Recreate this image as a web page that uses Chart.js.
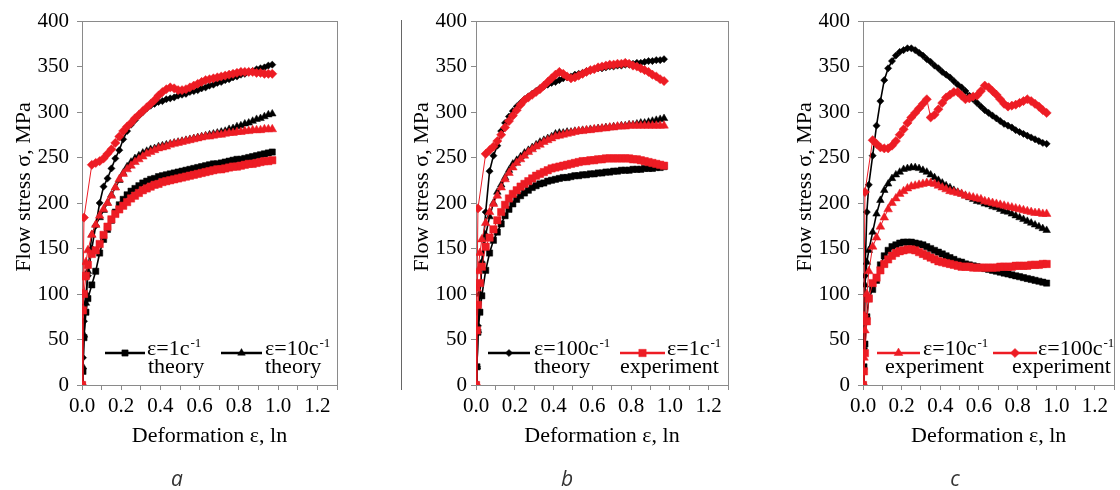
<!DOCTYPE html>
<html><head><meta charset="utf-8">
<script src="https://cdn.jsdelivr.net/npm/chart.js@4.4.1/dist/chart.umd.min.js"></script>
<style>
html,body{margin:0;padding:0;background:#fff;}
#wrap{position:relative;width:1120px;height:490px;overflow:hidden;background:#fff;}
#wrap canvas{position:absolute;left:0;top:0;}
.lbl{position:absolute;font-family:'Open Sans',sans-serif;font-style:italic;font-size:21px;color:#333;transform:translate(-50%,-50%);line-height:1;}
#sep{position:absolute;left:401px;top:20px;width:1px;height:370px;background:#666;}
</style></head><body>
<div id="wrap">
<canvas id="ca" width="1120" height="490"></canvas>
<canvas id="cb" width="1120" height="490"></canvas>
<canvas id="cc" width="1120" height="490"></canvas>
<div id="sep"></div>
<div class="lbl" style="left:177px;top:478px">a</div>
<div class="lbl" style="left:567px;top:478px">b</div>
<div class="lbl" style="left:955px;top:478px">c</div>
</div>
<script>
// ---------------- DATA ----------------
const STRAIN_AB = [0, 0.005, 0.01, 0.02, 0.03, 0.05, 0.07, 0.09, 0.11, 0.13, 0.15, 0.17, 0.19, 0.21, 0.23, 0.25, 0.27, 0.29, 0.31, 0.33, 0.35, 0.37, 0.39, 0.41, 0.43, 0.45, 0.47, 0.49, 0.51, 0.53, 0.55, 0.57, 0.59, 0.61, 0.63, 0.65, 0.67, 0.69, 0.71, 0.73, 0.75, 0.77, 0.79, 0.81, 0.83, 0.85, 0.87, 0.89, 0.91, 0.93, 0.95, 0.97];
const STRAIN_C  = [0, 0.005, 0.01, 0.02, 0.03, 0.05, 0.07, 0.09, 0.11, 0.13, 0.15, 0.17, 0.19, 0.21, 0.23, 0.25, 0.27, 0.29, 0.31, 0.33, 0.35, 0.37, 0.39, 0.41, 0.43, 0.45, 0.47, 0.49, 0.51, 0.53, 0.55, 0.57, 0.59, 0.61, 0.63, 0.65, 0.67, 0.69, 0.71, 0.73, 0.75, 0.77, 0.79, 0.81, 0.83, 0.85, 0.87, 0.89, 0.91, 0.93, 0.95];

// panel a
const A_THEORY_1   = [0, 15, 52, 80, 95, 110, 125, 145, 160, 171, 181, 190, 198, 204, 209, 213, 216, 219, 222, 224, 226, 227, 229, 230, 231, 232, 233, 234, 235, 236, 237, 238, 239, 240, 241, 242, 243, 243, 244, 245, 246, 247, 248, 248, 249, 250, 251, 252, 253, 254, 255, 256];
const A_THEORY_10  = [0, 20, 55, 90, 125, 165, 176, 184, 192, 200, 209, 217, 225, 233, 240, 245, 249, 252, 255, 257, 259, 260, 262, 263, 264, 265, 266, 267, 268, 269, 270, 271, 272, 273, 274, 275, 276, 277, 278, 279, 281, 282, 284, 285, 287, 288, 290, 292, 293, 295, 297, 298];
const A_THEORY_100 = [0, 30, 70, 100, 120, 150, 175, 200, 218, 227, 238, 249, 258, 270, 279, 286, 291, 296, 300, 304, 307, 309, 311, 312, 314, 315, 316, 318, 319, 320, 322, 323, 324, 326, 327, 329, 330, 332, 333, 335, 336, 338, 339, 341, 342, 344, 345, 347, 348, 349, 351, 352];
const A_EXP_1      = [0, 82, 100, 120, 132, 144, 148, 155, 165, 174, 182, 188, 193, 197, 201, 205, 208, 211, 214, 216, 218, 220, 221, 223, 224, 225, 226, 227, 228, 229, 230, 231, 232, 233, 234, 235, 236, 237, 237, 238, 239, 240, 240, 241, 242, 243, 243, 244, 245, 246, 246, 247];
const A_EXP_10     = [0, 100, 118, 135, 148, 165, 176, 186, 193, 200, 208, 217, 226, 232, 237, 241, 245, 248, 251, 254, 256, 258, 260, 261, 262, 264, 265, 266, 267, 268, 269, 270, 271, 272, 273, 273, 274, 275, 275, 276, 277, 277, 278, 278, 279, 279, 280, 280, 280, 281, 281, 281];
const A_EXP_100    = [0, null, 184, null, null, 242, 244, 246, 249, 254, 259, 266, 273, 279, 284, 288, 293, 297, 301, 305, 309, 313, 318, 322, 325, 327, 326, 324, 324, 325, 327, 329, 331, 333, 335, 336, 337, 338, 339, 340, 341, 342, 343, 344, 344, 344, 344, 343, 343, 342, 342, 342];

// panel b
const B_THEORY_1   = [0, 20, 58, 80, 98, 126, 145, 159, 168, 177, 186, 193, 199, 204, 208, 211, 214, 217, 219, 221, 222, 224, 225, 226, 227, 228, 228, 229, 230, 230, 231, 231, 232, 232, 233, 233, 234, 234, 235, 235, 236, 236, 236, 237, 237, 237, 238, 238, 238, 239, 239, 240];
const B_THEORY_10  = [0, 20, 60, 100, 130, 165, 185, 200, 212, 220, 228, 236, 243, 247, 251, 255, 258, 261, 264, 267, 269, 271, 273, 276, 277, 277, 278, 278, 279, 279, 280, 280, 281, 281, 282, 282, 283, 283, 284, 284, 285, 285, 286, 286, 287, 288, 288, 289, 290, 291, 292, 293];
const B_THEORY_100 = [0, 20, 65, 100, 135, 190, 235, 252, 263, 279, 288, 295, 301, 306, 310, 314, 317, 320, 323, 326, 328, 330, 332, 333, 335, 337, 338, 339, 341, 342, 343, 345, 346, 347, 348, 348, 349, 350, 350, 351, 351, 352, 352, 353, 354, 354, 355, 356, 356, 357, 357, 358];
const B_EXP_1      = [0, 60, 88, 112, 130, 152, 162, 171, 181, 190, 198, 205, 210, 214, 218, 221, 224, 227, 230, 232, 234, 236, 238, 239, 240, 241, 242, 243, 244, 245, 246, 246, 247, 247, 248, 248, 249, 249, 249, 249, 249, 249, 249, 248, 248, 247, 246, 245, 244, 243, 242, 241];
const B_EXP_10     = [0, 106, 125, 145, 160, 178, 190, 199, 208, 217, 226, 233, 239, 244, 248, 252, 256, 259, 262, 264, 267, 269, 271, 273, 274, 275, 276, 277, 278, 279, 279, 280, 280, 281, 281, 282, 282, 283, 283, 284, 284, 284, 285, 285, 285, 285, 285, 285, 285, 285, 285, 285];
const B_EXP_100    = [0, null, 194, null, null, 254, 258, 262, 268, 275, 283, 290, 296, 302, 308, 313, 316, 319, 322, 325, 329, 333, 337, 341, 344, 342, 339, 337, 338, 340, 342, 344, 346, 347, 349, 350, 351, 352, 352, 353, 353, 354, 353, 351, 350, 348, 346, 344, 341, 339, 336, 334];

// panel c
const C_THEORY_1   = [0, 20, 45, 75, 95, 105, 115, 132, 142, 148, 152, 154, 156, 157, 157, 157, 156, 155, 154, 152, 150, 148, 146, 144, 142, 140, 138, 136, 135, 133, 132, 131, 130, 129, 128, 127, 126, 125, 124, 123, 122, 121, 120, 119, 118, 117, 116, 115, 114, 113, 112];
const C_THEORY_10  = [0, 40, 110, 135, 148, 168, 188, 203, 214, 221, 227, 231, 234, 237, 238, 239, 239, 238, 236, 234, 231, 228, 225, 222, 219, 217, 214, 212, 210, 208, 206, 204, 202, 201, 199, 198, 196, 195, 193, 191, 190, 188, 186, 184, 182, 180, 178, 176, 174, 172, 170];
const C_THEORY_100 = [0, 40, 120, 190, 220, 252, 285, 312, 335, 348, 356, 362, 366, 368, 370, 370, 368, 365, 362, 358, 355, 351, 348, 344, 341, 338, 334, 330, 327, 323, 318, 314, 310, 306, 302, 299, 296, 293, 290, 287, 285, 283, 280, 278, 276, 274, 272, 270, 268, 266, 265];
const C_EXP_1      = [0, 15, 35, 70, 95, 112, 118, 126, 133, 138, 142, 145, 147, 148, 149, 149, 148, 146, 144, 142, 140, 138, 136, 135, 134, 133, 132, 131, 130, 130, 130, 129, 129, 129, 129, 129, 129, 129, 130, 130, 130, 130, 131, 131, 131, 131, 132, 132, 132, 133, 133];
const C_EXP_10     = [0, 30, 60, 100, 125, 152, 162, 174, 184, 193, 200, 205, 210, 213, 216, 218, 219, 220, 221, 222, 222, 221, 219, 217, 215, 213, 212, 211, 210, 208, 207, 206, 205, 204, 202, 201, 200, 199, 198, 197, 196, 195, 194, 193, 192, 191, 190, 189, 189, 188, 188];
const C_EXP_100    = [0, 76, 212, null, null, 269, 265, 261, 260, 260, 263, 268, 275, 281, 288, 294, 299, 304, 309, 314, 294, 297, 303, 310, 316, 319, 322, 322, 318, 314, 315, 317, 318, 323, 329, 327, 323, 319, 314, 309, 306, 307, 308, 310, 312, 314, 312, 309, 306, 302, 299];

const X_TICK_LABELS = ['0.0', '0.2', '0.4', '0.6', '0.8', '1.0', '1.2'];
const Y_TICKS = [0, 50, 100, 150, 200, 250, 300, 350, 400];
const X_TITLE = 'Deformation ε, ln';
const Y_TITLE = 'Flow stress σ, MPa';

const LEGEND_A = [{rate: '1', note: 'theory', kind: 'theory'}, {rate: '10', note: 'theory', kind: 'theory'}];
const LEGEND_B = [{rate: '100', note: 'theory', kind: 'theory'}, {rate: '1', note: 'experiment', kind: 'exp'}];
const LEGEND_C = [{rate: '10', note: 'experiment', kind: 'exp'}, {rate: '100', note: 'experiment', kind: 'exp'}];

// ---------------- STYLE ----------------
const BLACK = '#000000';
const RED = '#ed1c24';
const AXIS_GRAY = '#8a8a8a';
const SERIF = '"Liberation Serif","Times New Roman",serif';
const RATE_STYLE = {
  '1':   {style: 'rect',     rTheory: 4.4, rExp: 5.2},
  '10':  {style: 'triangle', rTheory: 4.4, rExp: 5.0},
  '100': {style: 'rectRot',  rTheory: 3.6, rExp: 4.6}
};

function buildSeries(strain, th1, th10, th100, ex1, ex10, ex100) {
  const list = [
    ['1', 'exp', ex1], ['10', 'exp', ex10], ['100', 'exp', ex100],
    ['1', 'theory', th1], ['10', 'theory', th10], ['100', 'theory', th100]
  ];
  return list.map(([rate, kind, vals]) => {
    const st = RATE_STYLE[rate];
    const col = kind === 'exp' ? RED : BLACK;
    return {
      label: 'ε=' + rate + ' ' + kind,
      data: strain.map((x, i) => ({x: x, y: vals[i]})),
      borderColor: col,
      backgroundColor: col,
      borderWidth: kind === 'exp' ? 1 : 1.6,
      pointStyle: st.style,
      pointRadius: kind === 'exp' ? st.rExp : st.rTheory,
      pointBackgroundColor: col,
      pointBorderColor: col,
      pointBorderWidth: 0.5,
      spanGaps: true,
      tension: 0,
      fill: false
    };
  });
}

const framePlugin = {
  id: 'frame',
  beforeDatasetsDraw(chart) {
    const a = chart.chartArea, ctx = chart.ctx;
    ctx.save();
    ctx.strokeStyle = AXIS_GRAY; ctx.lineWidth = 1;
    ctx.strokeRect(Math.round(a.left) + 0.5, Math.round(a.top) + 0.5, Math.round(a.right - a.left), Math.round(a.bottom - a.top));
    ctx.restore();
  }
};

const extrasPlugin = {
  id: 'extras',
  afterDraw(chart) {
    const o = chart.options.plugins.extras;
    const ctx = chart.ctx;
    ctx.save();
    ctx.translate(o.yTitleX, o.yTitleY);
    ctx.rotate(-Math.PI / 2);
    ctx.fillStyle = '#000';
    ctx.font = '22px ' + SERIF;
    ctx.textAlign = 'center';
    ctx.textBaseline = 'middle';
    ctx.fillText(Y_TITLE, 0, 0);
    ctx.restore();
    o.legend.forEach((e, i) => {
      const p = o.legendPos[i];
      const col = e.kind === 'exp' ? RED : BLACK;
      const st = RATE_STYLE[e.rate];
      ctx.save();
      ctx.strokeStyle = col; ctx.lineWidth = 2.6;
      ctx.beginPath(); ctx.moveTo(p.x1, p.y); ctx.lineTo(p.x2, p.y); ctx.stroke();
      ctx.fillStyle = col; ctx.lineWidth = 0.5;
      Chart.helpers.drawPoint(ctx, {pointStyle: st.style, radius: e.kind === 'exp' ? st.rExp : st.rTheory, rotation: 0, borderWidth: 0.5}, (p.x1 + p.x2) / 2, p.y);
      ctx.fillStyle = '#000';
      ctx.textAlign = 'left';
      ctx.textBaseline = 'alphabetic';
      ctx.font = '22px ' + SERIF;
      const main = 'ε=' + e.rate + 'c';
      ctx.fillText(main, p.tx, p.base);
      const w = ctx.measureText(main).width;
      ctx.font = '13px ' + SERIF;
      ctx.fillText('-1', p.tx + w + 1, p.base - 8);
      ctx.font = '22px ' + SERIF;
      ctx.fillText(e.note, p.nx, p.base + 18);
      ctx.restore();
    });
  }
};

function makePanel(id, datasets, layout, legend) {
  new Chart(document.getElementById(id), {
    type: 'line',
    data: {datasets: datasets},
    plugins: [framePlugin, extrasPlugin],
    options: {
      responsive: false,
      animation: false,
      events: [],
      devicePixelRatio: 1,
      layout: {padding: {left: layout.left - 60, right: 1120 - layout.right, top: 21, bottom: 41}},
      plugins: {
        legend: {display: false},
        tooltip: {enabled: false},
        extras: {yTitleX: layout.yTitleX, yTitleY: 187, legend: legend, legendPos: layout.legendPos}
      },
      scales: {
        x: {
          type: 'linear', min: 0, max: 1.3,
          afterFit(s) { s.height = 64; },
          grid: {drawOnChartArea: false, drawTicks: true, tickLength: 5, color: AXIS_GRAY},
          border: {display: true, color: AXIS_GRAY, width: 1},
          ticks: {
            stepSize: 0.1, autoSkip: false, maxRotation: 0, minRotation: 0, padding: 4,
            color: '#000', font: {family: SERIF, size: 21},
            callback(v) { const k = Math.round(v * 10); return (k % 2 === 0 && k / 2 < X_TICK_LABELS.length) ? X_TICK_LABELS[k / 2] : ''; }
          },
          title: {display: true, text: X_TITLE, color: '#000', font: {family: SERIF, size: 22}, padding: 0}
        },
        y: {
          type: 'linear', min: Y_TICKS[0], max: Y_TICKS[Y_TICKS.length - 1],
          afterFit(s) { s.width = 60; },
          grid: {drawOnChartArea: false, drawTicks: true, tickLength: 5, color: AXIS_GRAY},
          border: {display: true, color: AXIS_GRAY, width: 1},
          ticks: {stepSize: Y_TICKS[1] - Y_TICKS[0], padding: layout.yPad, color: '#000', font: {family: SERIF, size: 21}}
        }
      }
    }
  });
}

makePanel('ca',
  buildSeries(STRAIN_AB, A_THEORY_1, A_THEORY_10, A_THEORY_100, A_EXP_1, A_EXP_10, A_EXP_100),
  {left: 82, right: 337, yTitleX: 24, yPad: 8,
   legendPos: [{x1: 105, x2: 145, y: 353, tx: 147, nx: 148, base: 355}, {x1: 221, x2: 262, y: 353, tx: 265, nx: 265, base: 355}]},
  LEGEND_A);
makePanel('cb',
  buildSeries(STRAIN_AB, B_THEORY_1, B_THEORY_10, B_THEORY_100, B_EXP_1, B_EXP_10, B_EXP_100),
  {left: 476, right: 728, yTitleX: 422, yPad: 4,
   legendPos: [{x1: 488, x2: 530, y: 353, tx: 534, nx: 534, base: 355}, {x1: 620, x2: 665, y: 353, tx: 667, nx: 620, base: 355}]},
  LEGEND_B);
makePanel('cc',
  buildSeries(STRAIN_C, C_THEORY_1, C_THEORY_10, C_THEORY_100, C_EXP_1, C_EXP_10, C_EXP_100),
  {left: 863, right: 1116, yTitleX: 805, yPad: 8,
   legendPos: [{x1: 877, x2: 920, y: 353, tx: 923, nx: 885, base: 355}, {x1: 993, x2: 1037, y: 353, tx: 1038, nx: 1012, base: 355}]},
  LEGEND_C);
</script>
</body></html>
